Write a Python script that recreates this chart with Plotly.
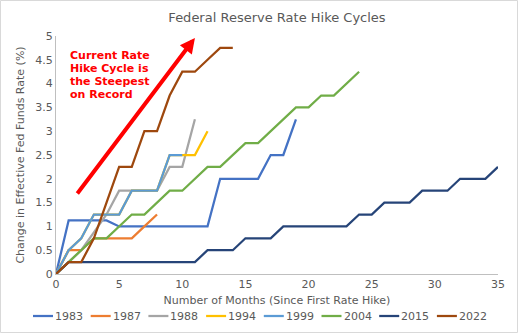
import plotly.graph_objects as go

# Cumulative change in the effective fed funds rate (percentage points),
# one value per month since the first hike of each cycle.
cycles = ["1983", "1987", "1988", "1994", "1999", "2004", "2015", "2022"]

c1983 = [0, 1.125, 1.125, 1.125, 1.125, 1.0, 1.0, 1.0, 1.0, 1.0, 1.0, 1.0, 1.0,
         2.0, 2.0, 2.0, 2.0, 2.5, 2.5, 3.25]
c1987 = [0, 0.5, 0.5, 0.75, 0.75, 0.75, 0.75, 1.0, 1.25]
c1988 = [0, 0.25, 0.5, 0.875, 1.25, 1.75, 1.75, 1.75, 1.75, 2.25, 2.25, 3.25]
c1994 = [0, 0.5, 0.75, 1.25, 1.25, 1.25, 1.75, 1.75, 1.75, 2.5, 2.5, 2.5, 3.0]
c1999 = [0, 0.5, 0.75, 1.25, 1.25, 1.25, 1.75, 1.75, 1.75, 2.5, 2.5]
c2004 = [0, 0.25, 0.5, 0.75, 0.75, 1.0, 1.25, 1.25, 1.5, 1.75, 1.75, 2.0, 2.25,
         2.25, 2.5, 2.75, 2.75, 3.0, 3.25, 3.5, 3.5, 3.75, 3.75, 4.0, 4.25]
c2015 = [0, 0.25, 0.25, 0.25, 0.25, 0.25, 0.25, 0.25, 0.25, 0.25, 0.25, 0.25,
         0.5, 0.5, 0.5, 0.75, 0.75, 0.75, 1.0, 1.0, 1.0, 1.0, 1.0, 1.0,
         1.25, 1.25, 1.5, 1.5, 1.5, 1.75, 1.75, 1.75, 2.0, 2.0, 2.0, 2.25]
c2022 = [0, 0.25, 0.25, 0.75, 1.5, 2.25, 2.25, 3.0, 3.0, 3.75, 4.25, 4.25, 4.5,
         4.75, 4.75]

series = [c1983, c1987, c1988, c1994, c1999, c2004, c2015, c2022]
colors = ["#4472C4", "#ED7D31", "#A5A5A5", "#FFC000", "#5B9BD5", "#70AD47",
          "#264478", "#9E480E"]

x_ticks = [0, 5, 10, 15, 20, 25, 30, 35]
y_ticks = [0, 0.5, 1, 1.5, 2, 2.5, 3, 3.5, 4, 4.5, 5]

callout_lines = ["Current Rate", "Hike Cycle is", "the Steepest", "on Record"]

FONT = "DejaVu Sans"
GREY_TEXT = "#595959"
AXIS_LINE = "#BFBFBF"

W, H = 518, 333
L, R, T, B = 56, 20, 36, 59
PW, PH = W - L - R, H - T - B


def px_to_paper(px, py):
    """Convert a pixel position on the page into paper coordinates."""
    return (px - L) / PW, (T + PH - py) / PH


fig = go.Figure()
for name, vals, col in zip(cycles, series, colors):
    fig.add_trace(go.Scatter(
        x=list(range(len(vals))), y=vals, name=name, mode="lines",
        line=dict(color=col, width=2.25), showlegend=False,
    ))

# Red arrow emphasising the steepness of the current cycle
fig.add_annotation(
    x=11.0, y=4.96, ax=1.6, ay=1.66, xref="x", yref="y", axref="x", ayref="y",
    text="", showarrow=True, arrowhead=2, arrowsize=0.75, arrowwidth=4,
    arrowcolor="#FF0000",
)

# Callout text, one annotation per line for tight line spacing
for i, line in enumerate(callout_lines):
    fig.add_annotation(
        x=0.95, y=4.6 - i * 13.2 / (PH / 5), xref="x", yref="y",
        text=f"<b>{line}</b>", showarrow=False, xanchor="left", yanchor="middle",
        font=dict(family=FONT, size=11, color="#FF0000"),
    )

# Compact single-row legend under the axis title
LEG_X0, LEG_STEP, LEG_Y, SWATCH = 33, 57.7, 316, 20
for i, (name, col) in enumerate(zip(cycles, colors)):
    sx = LEG_X0 + i * LEG_STEP
    x0, yl = px_to_paper(sx, LEG_Y)
    x1, _ = px_to_paper(sx + SWATCH, LEG_Y)
    fig.add_shape(type="line", xref="paper", yref="paper",
                  x0=x0, x1=x1, y0=yl, y1=yl, line=dict(color=col, width=2.25))
    tx, ty = px_to_paper(sx + SWATCH, LEG_Y)
    fig.add_annotation(x=tx, y=ty, xref="paper", yref="paper", text=name,
                       showarrow=False, xanchor="left", yanchor="middle",
                       font=dict(family=FONT, size=11, color=GREY_TEXT))

# Light grey frame around the whole chart
fig.add_shape(
    type="rect", xref="paper", yref="paper",
    x0=(-L + 0.5) / PW, x1=1 + (R - 0.5) / PW,
    y0=-(B - 0.5) / PH, y1=1 + (T - 0.5) / PH,
    line=dict(color="#D9D9D9", width=1), fillcolor="rgba(0,0,0,0)", layer="below",
)

fig.update_layout(
    width=W, height=H, showlegend=False,
    margin=dict(l=L, r=R, t=T, b=B, autoexpand=False),
    paper_bgcolor="white", plot_bgcolor="white",
    font=dict(family=FONT, size=11, color=GREY_TEXT),
    title=dict(text="Federal Reserve Rate Hike Cycles", x=0.5, xref="paper",
               xanchor="center", y=1 - 17 / H, yanchor="middle",
               font=dict(family=FONT, size=13, color=GREY_TEXT)),
    xaxis=dict(
        range=[0, 35], tickvals=x_ticks, showgrid=False, zeroline=False,
        showline=True, linecolor=AXIS_LINE, linewidth=1, ticks="",
        tickfont=dict(size=11, color=GREY_TEXT), automargin=False,
        title=dict(text="Number of Months (Since First Rate Hike)",
                   font=dict(size=11, color=GREY_TEXT), standoff=6),
    ),
    yaxis=dict(
        range=[0, 5], tickvals=y_ticks, ticktext=[f"{v:g}" for v in y_ticks],
        showgrid=False, zeroline=False, automargin=False,
        showline=True, linecolor=AXIS_LINE, linewidth=1, ticks="",
        tickfont=dict(size=11, color=GREY_TEXT),
        title=dict(text="Change in Effective Fed Funds Rate (%)",
                   font=dict(size=11, color=GREY_TEXT), standoff=8),
    ),
)

fig.write_html("out.html")
